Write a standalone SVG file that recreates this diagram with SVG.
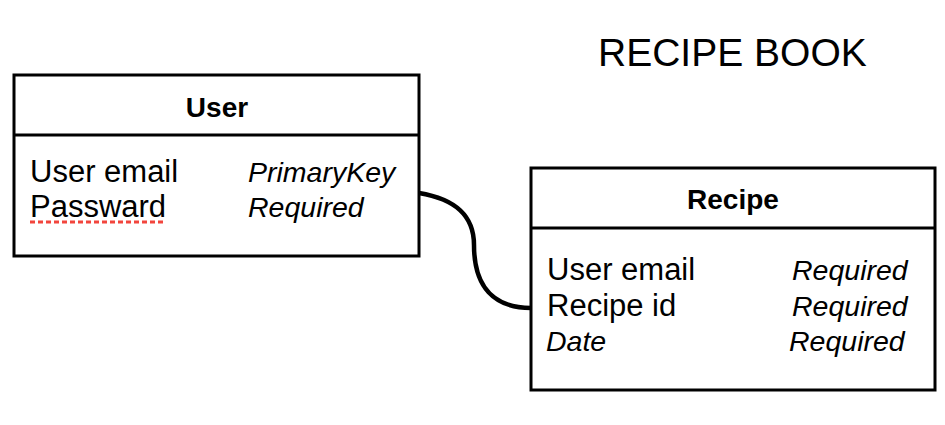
<svg xmlns="http://www.w3.org/2000/svg" width="945" height="425" viewBox="0 0 945 425">
<style>
.box{fill:#fff;stroke:#000;stroke-width:3}
.div{stroke:#000;stroke-width:3}
.title{font-family:"Liberation Sans",Arial,sans-serif;font-weight:bold;font-size:28px;text-anchor:middle}
.f{font-family:"Liberation Sans",Arial,sans-serif;font-size:31px}
.i{font-family:"Liberation Sans",Arial,sans-serif;font-size:28.5px;font-style:italic}
.conn{fill:none;stroke:#000;stroke-width:4.5}
</style>
<rect width="945" height="425" fill="#fff"/>
<text x="598" y="66" font-family="Liberation Sans,Arial,sans-serif" font-size="39">RECIPE BOOK</text>
<g id="connectors">
<path class="conn" d="M419,193 C455,199 474,215 474,245 C474,287 494,308 531,308"/>
</g>
<g id="user">
<rect class="box" x="14" y="75" width="405" height="181"/>
<line class="div" x1="14" y1="135" x2="419" y2="135"/>
<text class="title" x="217" y="117">User</text>
<text class="f" x="30" y="182">User email</text>
<text class="f" x="30" y="217">Passward</text>
<line x1="30" y1="222" x2="166" y2="222" stroke="#f2453d" stroke-width="3" stroke-dasharray="5,3"/>
<text class="i" x="248" y="182">PrimaryKey</text>
<text class="i" x="248" y="217">Required</text>
</g>
<g id="recipe">
<rect class="box" x="531" y="168" width="404" height="222"/>
<line class="div" x1="531" y1="228" x2="935" y2="228"/>
<text class="title" x="733" y="209">Recipe</text>
<text class="f" x="547" y="280">User email</text>
<text class="f" x="547" y="316">Recipe id</text>
<text class="i" x="546" y="351">Date</text>
<text class="i" x="792" y="280">Required</text>
<text class="i" x="792" y="316">Required</text>
<text class="i" x="789" y="351">Required</text>
</g>
</svg>
